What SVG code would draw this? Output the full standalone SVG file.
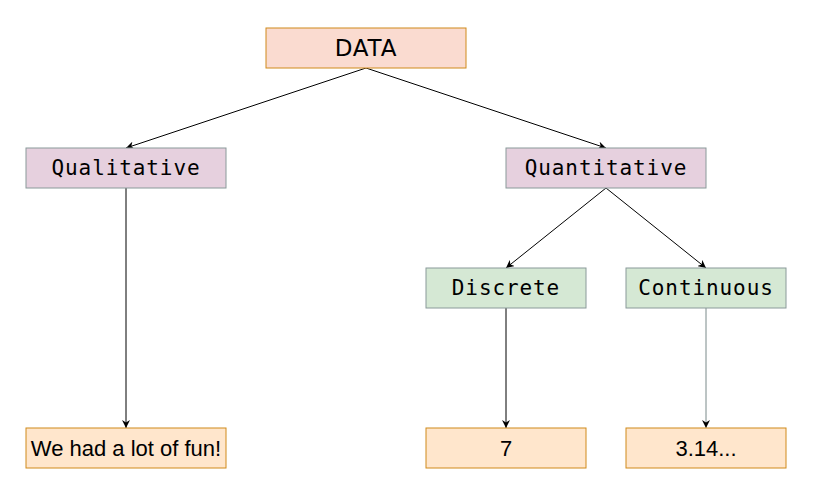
<svg xmlns="http://www.w3.org/2000/svg" width="818" height="484" viewBox="0 0 818 484">
<defs>
<marker id="arr" viewBox="0 0 10 10" refX="10" refY="5" markerWidth="8" markerHeight="8" markerUnits="userSpaceOnUse" orient="auto">
<path d="M0,0 L10,5 L0,10 L3,5 Z" fill="#000"/>
</marker>
</defs>
<style>
.top{fill:#fadbd0;stroke:#d08a1a;stroke-width:1}
.mid{fill:#e6d0de;stroke:#8a9a9a;stroke-width:1}
.grn{fill:#d5e8d4;stroke:#8a9a9a;stroke-width:1}
.leaf{fill:#ffe6cc;stroke:#d08a1a;stroke-width:1}
.mono{font-family:"DejaVu Sans Mono",monospace;font-size:21px;letter-spacing:0.9px;fill:#000;text-anchor:middle}
.sans{font-family:"Liberation Sans",Arial,sans-serif;font-size:22px;fill:#000;text-anchor:middle}
.head{font-family:"DejaVu Sans",sans-serif;font-size:23px;letter-spacing:0.8px;fill:#000;text-anchor:middle}
.edge{stroke:#000;stroke-width:1;fill:none;marker-end:url(#arr)}
</style>
<g id="connectors">
<line class="edge" x1="366" y1="68" x2="126" y2="148"/>
<line class="edge" x1="366" y1="68" x2="606" y2="148"/>
<line class="edge" x1="606" y1="188" x2="506" y2="268"/>
<line class="edge" x1="606" y1="188" x2="706" y2="268"/>
<line class="edge" x1="126" y1="188" x2="126" y2="428"/>
<line class="edge" x1="506" y1="308" x2="506" y2="428"/>
<line class="edge" x1="706" y1="308" x2="706" y2="428" style="stroke:#7a8a8a"/>
</g>
<g id="data"><rect class="top" x="266" y="28" width="200" height="40"/><text class="head" x="366" y="56">DATA</text></g>
<g id="qualitative"><rect class="mid" x="26" y="148" width="200" height="40"/><text class="mono" x="126" y="175">Qualitative</text></g>
<g id="quantitative"><rect class="mid" x="506" y="148" width="200" height="40"/><text class="mono" x="606" y="175">Quantitative</text></g>
<g id="discrete"><rect class="grn" x="426" y="268" width="160" height="40"/><text class="mono" x="506" y="295">Discrete</text></g>
<g id="continuous"><rect class="grn" x="626" y="268" width="160" height="40"/><text class="mono" x="706" y="295">Continuous</text></g>
<g id="fun"><rect class="leaf" x="26" y="428" width="200" height="40"/><text class="sans" x="126" y="456">We had a lot of fun!</text></g>
<g id="seven"><rect class="leaf" x="426" y="428" width="160" height="40"/><text class="sans" x="506" y="456">7</text></g>
<g id="pi"><rect class="leaf" x="626" y="428" width="160" height="40"/><text class="sans" x="706" y="456">3.14...</text></g>
</svg>
